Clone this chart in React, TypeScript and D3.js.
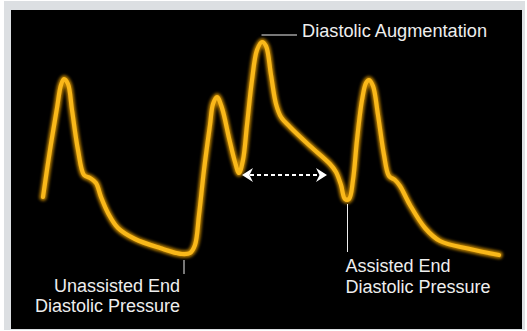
import React from "react";
import * as d3 from "d3";

// Time (ms) and arterial pressure (mmHg) samples of the waveform
const timeMs: number[] = [
  0, 17.5, 35, 45, 52.5, 62.5, 72.5, 87.5, 102.5, 117.5, 132.5, 145, 162.5, 187.5, 230, 292.5, 347.5,
  367.5, 380, 390, 402.5, 417.5, 425, 435, 447.5, 465, 480, 490, 500, 510, 522.5, 535, 547.5,
  557.5, 570, 582.5, 595, 617.5, 667.5, 717.5, 732.5, 745, 755, 765, 775, 785, 797.5, 807.5, 815,
  825, 837.5, 852.5, 865, 880, 892.5, 917.5, 955, 992.5, 1067.5, 1140,
];
const pressure: number[] = [
  51.5, 75, 96, 107.5, 110.5, 108, 95, 75, 62.5, 61, 58.5, 51.5, 43.5, 36, 30.5, 26, 23,
  23.5, 27.5, 42.5, 65, 87.5, 98, 101.5, 96, 81, 69, 63.5, 70, 87.5, 110, 125, 129,
  127, 112.5, 98, 91.5, 86.5, 77, 68, 64, 57.5, 50.5, 50.5, 60, 80, 100, 108.5, 110,
  107, 92.5, 72.5, 62, 60, 57, 47.5, 36, 29.5, 25.5, 22.5,
];

// Annotations
const augmentationLabel = "Diastolic Augmentation";
const augmentationPoint = { t: 547.5, p: 129 };
const unassistedLabel = ["Unassisted End", "Diastolic Pressure"];
const unassistedPoint = { t: 350, p: 23 };
const assistedLabel = ["Assisted End", "Diastolic Pressure"];
const assistedPoint = { t: 765, p: 50.5 };
const arrowSpan = { t0: 500, t1: 702.5, p: 62.5 };

export default function App() {
  const W = 527;
  const H = 331;
  const x = d3.scaleLinear().domain([0, 1140]).range([43, 499]);
  const y = d3.scaleLinear().domain([0, 150]).range([300, 0]);

  const pts: [number, number][] = timeMs.map((t, i) => [x(t), y(pressure[i])]);
  const line = d3.line<[number, number]>().curve(d3.curveCatmullRom.alpha(0.5));
  const d = line(pts) || "";

  const font = "'Liberation Sans', Arial, Helvetica, sans-serif";
  const txt = "#eeeeee";

  const ax = x(augmentationPoint.t);
  const ay = y(augmentationPoint.p) - 7;
  const ux = x(unassistedPoint.t) + 1;
  const uy = y(unassistedPoint.p);
  const sx = x(assistedPoint.t) - 2;
  const sy = y(assistedPoint.p);
  const arX0 = x(arrowSpan.t0) - 1;
  const arX1 = x(arrowSpan.t1) + 3;
  const arY = y(arrowSpan.p);

  const head = (tipX: number, dir: number) => {
    const L = 11;
    const h = 7;
    return `M${tipX},${arY} L${tipX + dir * L},${arY - h} L${tipX + dir * (L - 3.5)},${arY} L${tipX + dir * L},${arY + h} Z`;
  };

  return (
    <svg
      width={W}
      height={H}
      style={{ position: "absolute", left: 0, top: 0, background: "#ffffff" }}
    >
      <defs>
        <filter id="glow" x="-10%" y="-10%" width="120%" height="120%">
          <feGaussianBlur stdDeviation="1.6" />
        </filter>
      </defs>
      <rect x={4} y={1} width={521} height={329} fill="#dcdfe2" />
      <rect x={11} y={10} width={511} height={319} fill="#000000" />

      <path d={d} fill="none" stroke="#c98a00" strokeWidth={7.5} strokeLinecap="round" strokeLinejoin="round" filter="url(#glow)" opacity={0.9} />
      <path d={d} fill="none" stroke="#f9b81a" strokeWidth={4.2} strokeLinecap="round" strokeLinejoin="round" />

      {/* Diastolic augmentation */}
      <line x1={ax - 0.5} y1={ay} x2={ax + 35} y2={ay} stroke={txt} strokeWidth={1} />
      <text x={302} y={37} fill={txt} fontFamily={font} fontSize={18.2}>
        {augmentationLabel}
      </text>

      {/* Unassisted */}
      <line x1={ux} y1={uy + 6} x2={ux} y2={uy + 20} stroke={txt} strokeWidth={1} />
      <text x={180} y={292} fill={txt} fontFamily={font} fontSize={18} textAnchor="end">
        {unassistedLabel[0]}
      </text>
      <text x={180} y={312} fill={txt} fontFamily={font} fontSize={18} textAnchor="end">
        {unassistedLabel[1]}
      </text>

      {/* Assisted */}
      <line x1={sx + 0.5} y1={sy + 5} x2={sx + 0.5} y2={sy + 53} stroke={txt} strokeWidth={1} />
      <text x={345.5} y={272} fill={txt} fontFamily={font} fontSize={18}>
        {assistedLabel[0]}
      </text>
      <text x={345.5} y={293} fill={txt} fontFamily={font} fontSize={18}>
        {assistedLabel[1]}
      </text>

      {/* Dashed double arrow */}
      <line x1={arX0 + 8} y1={arY} x2={arX1 - 8} y2={arY} stroke="#ffffff" strokeWidth={2} strokeDasharray="4,3" />
      <path d={head(arX0, 1)} fill="#ffffff" />
      <path d={head(arX1, -1)} fill="#ffffff" />
    </svg>
  );
}
